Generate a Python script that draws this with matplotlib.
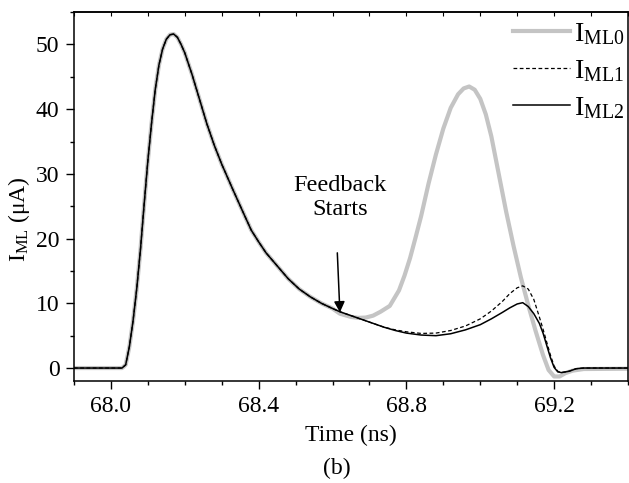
import numpy as np
import matplotlib.pyplot as plt
from matplotlib.ticker import MultipleLocator

plt.rcParams['font.family'] = 'Liberation Serif'
plt.rcParams['mathtext.fontset'] = 'custom'
plt.rcParams['mathtext.rm'] = 'Liberation Serif'
plt.rcParams['font.size'] = 17

# pulse shared by all three currents (ns, uA)
t_common = [67.90, 68.00, 68.03, 68.04, 68.05, 68.06, 68.07, 68.08, 68.09, 68.10,
            68.11, 68.12, 68.13, 68.14, 68.15, 68.16, 68.17, 68.18, 68.19, 68.20,
            68.22, 68.24, 68.26, 68.28, 68.30, 68.33, 68.36, 68.38, 68.40, 68.42,
            68.45, 68.48, 68.51, 68.54, 68.57, 68.60]
i_common = [0.0, 0.0, 0.0, 0.5, 3.3, 7.3, 12.3, 18.3, 25.3, 32.0,
            37.8, 43.0, 46.8, 49.3, 50.8, 51.5, 51.6, 51.1, 50.0, 48.7,
            45.3, 41.5, 37.7, 34.4, 31.5, 27.6, 23.8, 21.3, 19.5, 17.8,
            15.8, 13.8, 12.2, 11.0, 10.0, 9.2]

# without feedback: second pulse
t_ml0 = [68.62, 68.65, 68.67, 68.69, 68.71, 68.73, 68.755, 68.78, 68.795, 68.81,
         68.825, 68.84, 68.86, 68.88, 68.90, 68.92, 68.94, 68.955, 68.97, 68.985,
         69.00, 69.015, 69.03, 69.05, 69.07, 69.09, 69.11, 69.13, 69.15, 69.17,
         69.185, 69.20, 69.215, 69.23, 69.25, 69.28, 69.40]
i_ml0 = [8.4, 7.9, 7.75, 7.8, 8.1, 8.7, 9.6, 12.0, 14.3, 17.0,
         20.2, 23.5, 28.5, 33.0, 37.0, 40.2, 42.3, 43.2, 43.5, 43.0,
         41.6, 39.2, 35.8, 30.0, 24.2, 18.9, 14.0, 9.7, 5.7, 2.0,
         -0.3, -1.3, -1.3, -0.8, -0.4, -0.15, -0.1]

# with feedback
t_fb = [68.62, 68.65, 68.68, 68.71, 68.74, 68.77, 68.80, 68.84, 68.88, 68.92,
        68.96, 69.00, 69.03, 69.06, 69.08, 69.10, 69.115, 69.13, 69.145, 69.16,
        69.17, 69.18, 69.19, 69.20, 69.21, 69.22, 69.24, 69.26, 69.28, 69.40]
i_ml1 = [8.7, 8.1, 7.5, 6.9, 6.3, 5.9, 5.6, 5.35, 5.4, 5.8,
         6.5, 7.6, 8.8, 10.3, 11.5, 12.4, 12.7, 12.2, 10.6, 7.9,
         6.0, 4.0, 2.0, 0.3, -0.5, -0.7, -0.5, -0.1, 0.0, 0.0]
i_ml2 = [8.7, 8.1, 7.5, 6.9, 6.3, 5.8, 5.4, 5.1, 5.0, 5.3,
         5.9, 6.7, 7.6, 8.6, 9.3, 9.9, 10.1, 9.5, 8.4, 6.9,
         5.4, 3.5, 1.6, 0.1, -0.6, -0.7, -0.5, -0.1, 0.0, 0.0]

fig = plt.figure(figsize=(6.29, 4.83), dpi=100)
ax = fig.add_axes([0.1176, 0.2112, 0.8808, 0.7638])

ax.plot(t_common + t_ml0, i_common + i_ml0, color='#c4c4c4', lw=3.0,
        label=r'$\mathregular{I_{ML0}}$')
ax.plot(t_common + t_fb, i_common + i_ml1, color='black', lw=0.9,
        ls=(0, (3, 2)), label=r'$\mathregular{I_{ML1}}$')
ax.plot(t_common + t_fb, i_common + i_ml2, color='black', lw=1.1,
        label=r'$\mathregular{I_{ML2}}$')

ax.set_xlim(67.9, 69.4)
ax.set_ylim(-2, 55)
ax.xaxis.set_major_locator(MultipleLocator(0.4))
ax.xaxis.set_minor_locator(MultipleLocator(0.1))
ax.yaxis.set_major_locator(MultipleLocator(10))
ax.yaxis.set_minor_locator(MultipleLocator(5))
ax.xaxis.set_major_formatter(plt.FormatStrFormatter('%.1f'))

ax.tick_params(which='both', direction='out', top=False, right=False, width=1.0)
ax.tick_params(which='major', length=5.5, pad=5)
ax.tick_params(which='minor', length=3)
# small inward ticks along the top frame
sec_x = ax.secondary_xaxis('top')
sec_x.xaxis.set_major_locator(MultipleLocator(0.1))
sec_x.tick_params(direction='in', length=3, labeltop=False)
for s in list(ax.spines.values()) + [sec_x.spines['top']]:
    s.set_linewidth(1.1)

ax.set_xlabel('Time (ns)', labelpad=6)
ax.set_ylabel(r'$\mathregular{I_{ML}}$ (μA)')
ax.yaxis.set_label_coords(-0.076, 0.44)

ax.text(68.62, 26.3, 'Feedback\nStarts', ha='center', va='center', linespacing=1.2,
        fontsize=17.5)
ax.annotate('', xy=(68.62, 8.6), xytext=(68.613, 17.8),
            arrowprops=dict(arrowstyle='-|>', color='black', lw=1.1,
                            mutation_scale=16, shrinkA=0, shrinkB=0))

ax.legend(loc='upper right', bbox_to_anchor=(1.01, 0.998), frameon=False,
          handlelength=2.0, handletextpad=0.15, labelspacing=0.38,
          borderaxespad=0.0, borderpad=0.3, fontsize=20.5)

fig.text(0.535, 0.03, '(b)', ha='center', va='center')

fig.savefig('out.png', dpi=100)
